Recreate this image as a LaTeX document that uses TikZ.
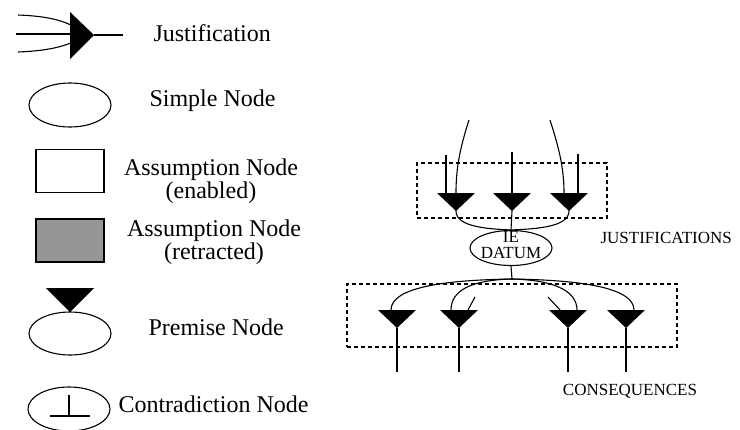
\documentclass[tikz,border=0pt]{standalone}
\usepackage{fontspec}
\setmainfont{Liberation Serif}
\usetikzlibrary{shapes.geometric}
\definecolor{retractgray}{RGB}{150,150,150}
\tikzset{
  legendtext/.style={font=\fontsize{24}{23.5}\selectfont, inner sep=0pt},
  smalltext/.style={font=\fontsize{17}{16}\selectfont, inner sep=0pt},
  oval/.style={draw, ellipse, inner sep=0pt, minimum width=82pt, minimum height=44pt},
  assumbox/.style={draw, rectangle, inner sep=0pt, minimum width=68pt, minimum height=43pt},
  groupbox/.style={draw, rectangle, dash pattern=on 4pt off 3pt, inner sep=0pt},
  wedge/.pic={
    \fill (-19,0) -- (19,0) -- (0,18) -- cycle;
    \coordinate (-top) at (0,0);
    \coordinate (-tip) at (0,18);
  }
}
\begin{document}
\begin{tikzpicture}[x=1pt, y=-1pt, line width=1.1pt]
\useasboundingbox (0,0) rectangle (740,429);
\clip (0,0) rectangle (740,429);

% ---------- legend ----------
% justification symbol
\coordinate (jin1) at (18,15);
\coordinate (jin2) at (16,34);
\coordinate (jin3) at (18,52);
\coordinate (jout) at (123,35);
\fill (70,12) -- (70,59) -- (94,35) -- cycle;
\coordinate (jtip) at (94,35);
\draw (jin1) .. controls (43,16) and (58,19) .. (71,25);
\draw (jin2) -- (71,34);
\draw (jin3) .. controls (43,51) and (58,48) .. (71,43);
\draw (jtip) -- (jout);
\node[legendtext, anchor=west] (tjust) at (153,33) {Justification};

% simple node
\node[oval] (simple) at (70,105) {};
\node[legendtext, anchor=west] (tsimple) at (149,101) {Simple Node};

% assumption nodes
\node[assumbox] (enabled) at (70,171) {};
\node[legendtext, align=center] (tenabled) at (211,181) {Assumption Node\\(enabled)};
\node[assumbox, fill=retractgray] (retracted) at (70,240.5) {};
\node[legendtext, align=center] (tretracted) at (214,242) {Assumption Node\\(retracted)};

% premise node
\fill (46,288) -- (94,288) -- (70,312) -- cycle;
\node[oval, minimum height=43pt] (premise) at (70,333.5) {};
\node[legendtext, anchor=west] (tpremise) at (148,327) {Premise Node};

% contradiction node
\node[oval] (contra) at (69,409) {};
\draw (69,395) -- (69,416);
\draw (50,416) -- (90,416);
\node[legendtext, anchor=west] (tcontra) at (118,404) {Contradiction Node};

% ---------- datum with its justifications and consequences ----------
\node[groupbox, minimum width=190pt, minimum height=55pt] (jbox) at (512,190.5) {};
\node[groupbox, minimum width=330pt, minimum height=63pt] (cbox) at (512,315.5) {};

\pic (ja) at (456,193) {wedge};
\pic (jb) at (512,193) {wedge};
\pic (jc) at (569,193) {wedge};

\pic (ca) at (397,310) {wedge};
\pic (cb) at (459,310) {wedge};
\pic (cc) at (568,310) {wedge};
\pic (cd) at (626,310) {wedge};

\node[draw, ellipse, inner sep=0pt, minimum width=82pt, minimum height=35pt] (datum) at (511,248) {};
\node[smalltext, align=center] (tdatum) at (511,245) {IE\\DATUM};

% antecedents entering the justifications
\coordinate (ina) at (446,155);
\coordinate (inb) at (512,152);
\coordinate (inc) at (578,154);
\coordinate (arca) at (469,120);
\coordinate (arcc) at (550,120);
\draw (ina) -- (ina |- ja-top);
\draw (inb) -- (jb-top);
\draw (inc) -- (inc |- jc-top);
\draw (arca) .. controls (460,148) and (456,168) .. (ja-top);
\draw (arcc) .. controls (559,148) and (564,168) .. ([xshift=-5pt]jc-top);

% justifications feeding the datum
\draw (ja-tip) .. controls (456,227) and (488,229) .. (datum.north);
\draw (jb-tip) -- (datum.north);
\draw (jc-tip) .. controls (569,227) and (536,229) .. (datum.north);

% datum feeding its consequences
\coordinate (fork) at (512,279);
\draw (datum.south) -- (fork);
\draw (fork) .. controls (446,280) and (391,287) .. ([xshift=-6pt]ca-top);
\draw (fork) .. controls (472,280) and (451,290) .. ([xshift=-8pt]cb-top);
\draw (fork) .. controls (552,280) and (577,290) .. ([xshift=9pt]cc-top);
\draw (fork) .. controls (578,280) and (634,287) .. ([xshift=8pt]cd-top);

% other antecedents of the consequences
\coordinate (sideb) at (475,297);
\coordinate (sidec) at (548,297);
\draw (sideb) -- ([xshift=9pt]cb-top);
\draw (sidec) -- ([xshift=-8pt]cc-top);

% consequents
\coordinate (outa) at (397,372);
\coordinate (outb) at (459,372);
\coordinate (outc) at (568,372);
\coordinate (outd) at (626,372);
\draw (ca-tip) -- (outa);
\draw (cb-tip) -- (outb);
\draw (cc-tip) -- (outc);
\draw (cd-tip) -- (outd);

\node[smalltext, anchor=west] (tjusts) at (600,238) {JUSTIFICATIONS};
\node[smalltext] (tconseq) at (630,391) {CONSEQUENCES};
\end{tikzpicture}
\end{document}
